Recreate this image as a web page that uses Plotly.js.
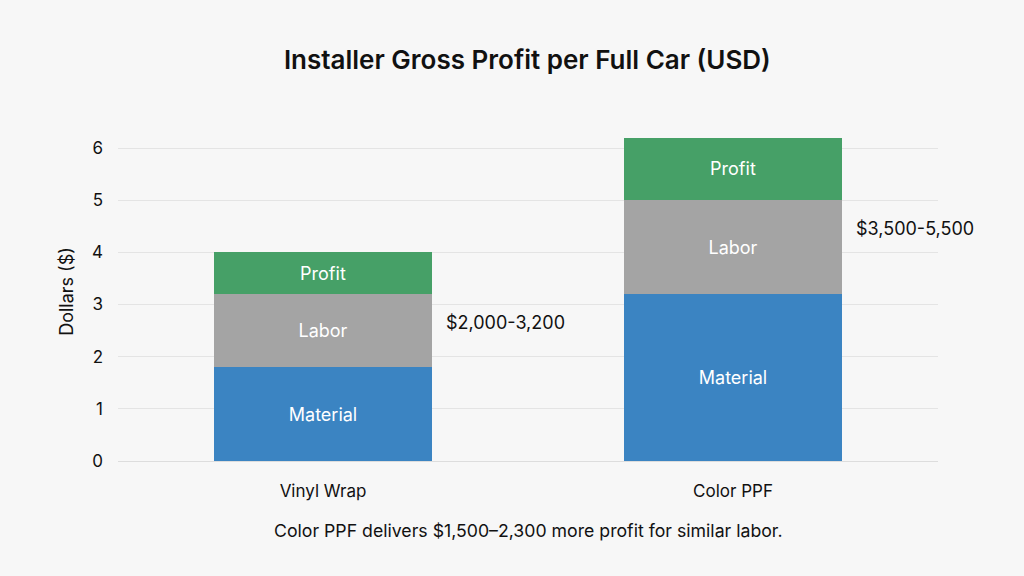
<!DOCTYPE html>
<html>
<head>
<meta charset="utf-8">
<script src="https://cdn.plot.ly/plotly-3.0.1.min.js"></script>
<style>
  html, body { margin: 0; padding: 0; background: #f7f7f7; }
  #chart { width: 1024px; height: 576px; }
</style>
</head>
<body>
<div id="chart"></div>
<script>
  // values in thousands of dollars
  var categories = ["Vinyl Wrap", "Color PPF"];
  var material = [1.8, 3.2];
  var labor = [1.4, 1.8];
  var profit = [0.8, 1.2];
  var rangeLabels = ["$2,000-3,200", "$3,500-5,500"];
  var rangeLabelY = [2.65, 4.45];
  var footnote = "Color PPF delivers $1,500\u20132,300 more profit for similar labor.";

  var fontFamily = "Inter, 'Noto Sans', sans-serif";

  function segment(name, values, color) {
    return {
      x: categories,
      y: values,
      name: name,
      type: "bar",
      width: 0.53,
      marker: { color: color },
      text: categories.map(function () { return name; }),
      textposition: "inside",
      insidetextanchor: "middle",
      textfont: { color: "#ffffff", size: 18, family: fontFamily },
      hoverinfo: "x+y+name"
    };
  }

  var data = [
    segment("Material", material, "#3b84c2"),
    segment("Labor", labor, "#a4a4a4"),
    segment("Profit", profit, "#46a067")
  ];

  var annotations = categories.map(function (cat, i) {
    return {
      x: cat,
      y: rangeLabelY[i],
      xref: "x",
      yref: "y",
      xshift: 121,
      xanchor: "left",
      text: rangeLabels[i],
      showarrow: false,
      font: { size: 18, color: "#111111", family: fontFamily }
    };
  });

  annotations.push({
    x: 0.5,
    y: -0.206,
    xref: "paper",
    yref: "paper",
    xanchor: "center",
    yanchor: "middle",
    text: footnote,
    showarrow: false,
    font: { size: 17.7, color: "#111111", family: fontFamily }
  });

  var layout = {
    width: 1024,
    height: 576,
    barmode: "stack",
    showlegend: false,
    paper_bgcolor: "#f7f7f7",
    plot_bgcolor: "#f7f7f7",
    margin: { l: 118, r: 86, t: 122, b: 115 },
    title: {
      text: "Installer Gross Profit per Full Car (USD)",
      x: 0.515,
      xanchor: "center",
      y: 0.896,
      yanchor: "middle",
      font: { size: 26, color: "#111111", family: fontFamily, weight: 600 }
    },
    xaxis: {
      range: [-0.5, 1.5],
      tickfont: { size: 17, color: "#111111", family: fontFamily },
      showgrid: false,
      zeroline: false,
      showline: false,
      ticks: "",
      ticklabelstandoff: 18
    },
    yaxis: {
      title: {
        text: "Dollars ($)",
        font: { size: 18, color: "#111111", family: fontFamily },
        standoff: 13
      },
      range: [0, 6.5],
      dtick: 1,
      tickfont: { size: 17, color: "#111111", family: fontFamily },
      gridcolor: "#e4e4e4",
      zeroline: true,
      zerolinecolor: "#dddddd",
      showline: false,
      ticks: "",
      ticklabelstandoff: 14
    },
    annotations: annotations
  };

  Plotly.newPlot("chart", data, layout, { displayModeBar: false, staticPlot: true });
</script>
</body>
</html>
